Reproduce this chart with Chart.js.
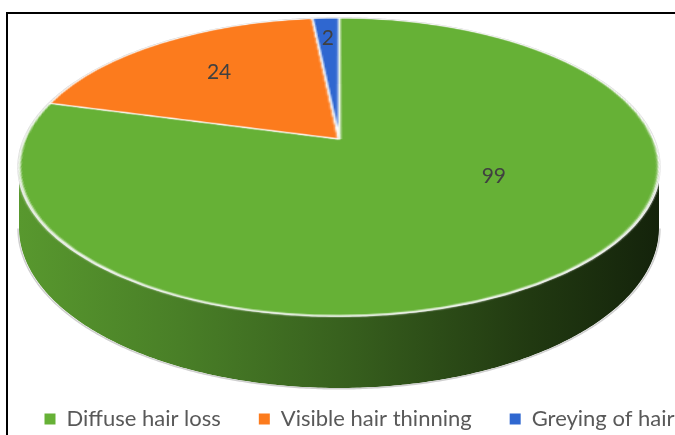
<!DOCTYPE html>
<html>
<head>
<meta charset="utf-8">
<script src="https://cdn.jsdelivr.net/npm/chart.js@4.4.1/dist/chart.umd.min.js"></script>
<style>
html,body{margin:0;padding:0;background:#fff;overflow:hidden;width:675px;height:435px;}
#wrap{position:relative;width:675px;height:435px;overflow:hidden;background:#fff;}
#c{position:absolute;left:0;top:0;}
#frame{position:absolute;left:6px;top:12px;width:800px;height:600px;border:2px solid #000;pointer-events:none;}
</style>
</head>
<body>
<div id="wrap"><canvas id="c" width="675" height="440"></canvas><div id="frame"></div></div>
<script>
// ---- data ----
const categories = ['Diffuse hair loss', 'Visible hair thinning', 'Greying of hair'];
const values = [99, 24, 2];
const sliceColors = ['#66b136', '#fc7b1d', '#2f67d0'];

// ---- view / style ----
const view = { cx: 339, yBack: 18, yApex: 139, yFront: 316, rx: 320, depthFront: 72 };
const labelStyle = { radius: [0.53, 0.66, 0.81], nudgeDeg: [-25, 1, 0], font: '21px Lato', color: '#404040' };

function hexToRgb(h){const n=parseInt(h.slice(1),16);return [(n>>16)&255,(n>>8)&255,n&255];}
function shade(h,f){const c=hexToRgb(h);return 'rgb('+c.map(x=>Math.round(x*f)).join(',')+')';}

// perspective parameters derived from view
const b = view.yApex;
const c = (view.yFront + view.yBack - 2*b) / (view.yBack - view.yFront);
const a = view.yFront*(1+c) - b;
const S = view.rx*Math.sqrt(1-c*c);
const D = view.depthFront*(1+c);
function project(u, v, h){
  const w = 1 + c*v;
  return [view.cx + S*u/w, (a*v + b)/w + (h||0)*D/w];
}

const pie3d = {
  id: 'pie3d',
  afterDatasetsDraw(chart){
    const ctx = chart.ctx, canvas = chart.canvas;
    const meta = chart.getDatasetMeta(0);
    const el0 = meta.data[0];
    const R = el0.outerRadius, ox = el0.x, oy = el0.y, m = 4;
    const size = Math.ceil(2*R + 2*m);
    const off = document.createElement('canvas');
    off.width = size; off.height = size;
    const octx = off.getContext('2d');
    octx.drawImage(canvas, ox - R - m, oy - R - m, size, size, 0, 0, size, size);
    ctx.save();
    ctx.clearRect(0, 0, chart.width, chart.chartArea.bottom);

    // --- side walls ---
    const t1 = Math.asin(-c), t2 = Math.PI - t1;
    meta.data.forEach((el, i) => {
      const s = el.startAngle, e = el.endAngle;
      for (const k of [-2, 0, 2]) {
        const lo = Math.max(s, t1 + k*Math.PI), hi = Math.min(e, t2 + k*Math.PI);
        if (hi <= lo) continue;
        const n = Math.max(2, Math.ceil((hi-lo)/0.01));
        ctx.beginPath();
        for (let j=0;j<=n;j++){const t=lo+(hi-lo)*j/n;const p=project(Math.cos(t),Math.sin(t),0);j?ctx.lineTo(p[0],p[1]):ctx.moveTo(p[0],p[1]);}
        for (let j=n;j>=0;j--){const t=lo+(hi-lo)*j/n;const p=project(Math.cos(t),Math.sin(t),1);ctx.lineTo(p[0],p[1]);}
        ctx.closePath();
        const base = el.options.backgroundColor;
        const g = ctx.createLinearGradient(view.cx - view.rx, 0, view.cx + view.rx, 0);
        g.addColorStop(0, shade(base, 0.86));
        g.addColorStop(0.25, shade(base, 0.72));
        g.addColorStop(0.5, shade(base, 0.55));
        g.addColorStop(0.8, shade(base, 0.32));
        g.addColorStop(1, shade(base, 0.2));
        ctx.fillStyle = g;
        ctx.fill();
      }
    });

    // --- silhouette outline ---
    ctx.strokeStyle = '#cfcfcf';
    ctx.lineWidth = 1.5;
    ctx.beginPath();
    for (let j=0;j<=720;j++){const t=j/720*2*Math.PI;const p=project(Math.cos(t),Math.sin(t),0);const q=[p[0]+(p[0]-view.cx)*0.003,p[1]];j?ctx.lineTo(q[0],q[1]):ctx.moveTo(q[0],q[1]);}
    ctx.stroke();
    ctx.beginPath();
    for (let j=0;j<=360;j++){const t=t1+(t2-t1)*j/360;const p=project(Math.cos(t),Math.sin(t),1);const q=[p[0]+(p[0]-view.cx)*0.003,p[1]+0.8];j?ctx.lineTo(q[0],q[1]):ctx.moveTo(q[0],q[1]);}
    ctx.stroke();

    // --- top face: the library's pie, seen in perspective ---
    ctx.imageSmoothingEnabled = true;
    for (let y = Math.floor(view.yBack) - 2; y <= Math.ceil(view.yFront) + 2; y++) {
      const yc = y + 0.5;
      const v = (yc - b) / (a - yc*c);
      if (v < -1.03 || v > 1.03) continue;
      const w = 1 + c*v;
      let srcY = R + m + v*R - 0.5;
      srcY = Math.max(0, Math.min(size-1, srcY));
      const sx = S/(R*w);
      ctx.drawImage(off, 0, srcY, size, 1, view.cx - (R+m)*sx, y, size*sx, 1);
    }

    // --- data labels ---
    ctx.font = labelStyle.font;
    ctx.fillStyle = labelStyle.color;
    ctx.textAlign = 'center';
    ctx.textBaseline = 'middle';
    meta.data.forEach((el, i) => {
      const mid = (el.startAngle + el.endAngle)/2 + labelStyle.nudgeDeg[i]*Math.PI/180;
      const r = labelStyle.radius[i];
      const p = project(r*Math.cos(mid), r*Math.sin(mid), 0);
      ctx.fillText(String(values[i]), p[0], p[1]);
    });
    ctx.restore();
  }
};

const baseGen = (Chart.overrides.pie && Chart.overrides.pie.plugins && Chart.overrides.pie.plugins.legend)
  ? Chart.overrides.pie.plugins.legend.labels.generateLabels
  : Chart.overrides.doughnut.plugins.legend.labels.generateLabels;

new Chart(document.getElementById('c'), {
  type: 'pie',
  data: {
    labels: categories,
    datasets: [{
      data: values,
      backgroundColor: sliceColors,
      borderColor: '#ffffff',
      borderWidth: 1.5
    }]
  },
  options: {
    responsive: false,
    devicePixelRatio: 1,
    animation: false,
    events: [],
    layout: { padding: { top: 4, left: -56, right: -100, bottom: 0 } },
    plugins: {
      tooltip: { enabled: false },
      legend: {
        position: 'bottom',
        labels: {
          boxWidth: 11,
          boxHeight: 11,
          padding: 38,
          color: '#595959',
          font: { family: 'Lato', size: 22 },
          generateLabels(chart){
            const items = baseGen(chart);
            items.forEach(it => { it.lineWidth = 0; it.strokeStyle = 'rgba(0,0,0,0)'; });
            return items;
          }
        }
      }
    }
  },
  plugins: [pie3d]
});
</script>
</body>
</html>
